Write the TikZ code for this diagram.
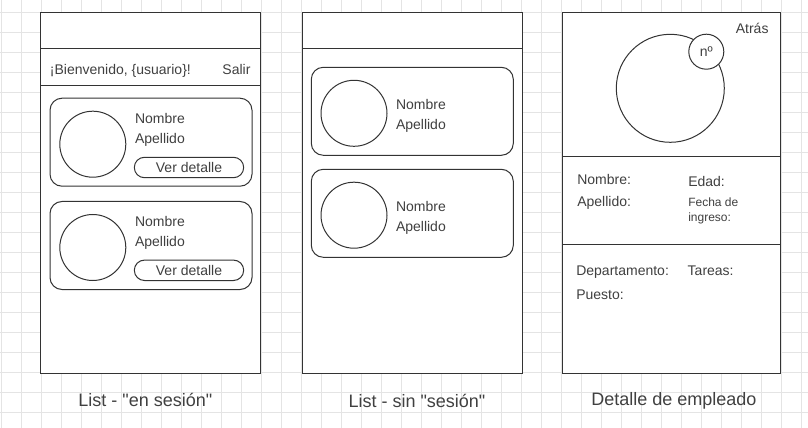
\documentclass[tikz,border=0pt]{standalone}
\usepackage{fontspec}
\setmainfont{Liberation Sans}
\usetikzlibrary{positioning,shapes}
\definecolor{ink}{HTML}{333333}
\definecolor{inktext}{HTML}{404040}
\definecolor{gridgray}{HTML}{E4E4E4}

\begin{document}
\begin{tikzpicture}[x=0.75pt,y=-0.75pt]
\tikzset{every node/.style={inner sep=0pt, outer sep=0pt, text=inktext},
gridline/.style={draw=gridgray, line width=0.75pt},
sepline/.style={draw=ink, line width=0.75pt},
screen/.style={draw=ink, line width=0.75pt, fill=white, anchor=north west,
minimum width=165pt, minimum height=271.1pt},
card/.style={draw=ink, line width=0.75pt, rounded corners=9pt,
minimum width=151.5pt, minimum height=66pt},
photo/.style={draw=ink, line width=0.75pt, circle, minimum size=49.5pt},
button/.style={draw=ink, line width=0.75pt, rounded corners=7.6pt,
minimum width=82pt, minimum height=15.3pt, font=\fontsize{10.5pt}{12pt}\selectfont},
label/.style={anchor=base west, font=\fontsize{10.5pt}{12pt}\selectfont},
small-label/.style={anchor=base west, font=\fontsize{9pt}{10pt}\selectfont},
caption/.style={anchor=base, font=\fontsize{13.5pt}{16pt}\selectfont}}
\useasboundingbox (0,0) rectangle (808,428);
\foreach \gx in {0,...,40} \draw[gridline] (1.3+20*\gx,0) -- (1.3+20*\gx,428);
\foreach \gy in {0,...,20} \draw[gridline] (0,12.7+20*\gy) -- (808,12.7+20*\gy);

\begin{scope}
\node[screen] (list-session) at (40.5,12.5) {};
\draw[sepline] (40.5,48.5) -- (260.5,48.5);
\draw[sepline] (40.5,85.5) -- (260.5,85.5);
\node[label] (welcome) at (50,75) {¡Bienvenido, \{usuario\}!};
\node[label, anchor=base east] (logout) at (250.5,75) {Salir};
\node[card] (session-card-one) at (151,142.2) {};
\node[photo] (session-photo-one) at (92.8,144.2) {};
\node[label] (session-name-one) at (135,124) {Nombre};
\node[label] (session-surname-one) at (135,144) {Apellido};
\node[button] (session-detail-one) at (189,167.5) {Ver detalle};
\node[card] (session-card-two) at (151,245.5) {};
\node[photo] (session-photo-two) at (92.8,247.5) {};
\node[label] (session-name-two) at (135,226.7) {Nombre};
\node[label] (session-surname-two) at (135,246.7) {Apellido};
\node[button] (session-detail-two) at (189,270.3) {Ver detalle};
\node[caption] (list-session-title) at (145.3,406.7) {List - \textquotedbl en sesión\textquotedbl};
\end{scope}

\begin{scope}
\node[screen] (list-guest) at (302.5,12.5) {};
\draw[sepline] (302.5,48.5) -- (522.5,48.5);
\node[card] (guest-card-one) at (412.3,111.3) {};
\node[photo] (guest-photo-one) at (354,113.3) {};
\node[label] (guest-name-one) at (396,110) {Nombre};
\node[label] (guest-surname-one) at (396,130) {Apellido};
\node[card] (guest-card-two) at (412.3,213.3) {};
\node[photo] (guest-photo-two) at (354,215.2) {};
\node[label] (guest-name-two) at (396,212) {Nombre};
\node[label] (guest-surname-two) at (396,232) {Apellido};
\node[caption] (list-guest-title) at (417,407) {List - sin \textquotedbl sesión\textquotedbl};
\end{scope}

\begin{scope}
\node[screen, minimum width=163.5pt] (employee-detail) at (562.5,12.5) {};
\draw[sepline] (562.5,157) -- (780.5,157);
\draw[sepline] (562.5,244.5) -- (780.5,244.5);
\node[label, anchor=base east] (back) at (768.5,33.7) {Atrás};
\node[photo, minimum size=81pt] (employee-photo) at (670.3,88.3) {};
\node[photo, minimum size=26.25pt, fill=white, font=\fontsize{10.5pt}{12pt}\selectfont]
(employee-number) at (706.3,51.7) {nº};
\node[label] (employee-name) at (577.3,184.3) {Nombre:};
\node[label] (employee-age) at (688.3,186) {Edad:};
\node[label] (employee-surname) at (577.3,206.7) {Apellido:};
\node[small-label] (employee-since) at (688.3,206.7) {Fecha de};
\node[small-label] (employee-since-two) at (688.3,221) {ingreso:};
\node[label] (employee-department) at (576.3,275) {Departamento:};
\node[label] (employee-tasks) at (687.7,275) {Tareas:};
\node[label] (employee-position) at (576.3,299) {Puesto:};
\node[caption] (employee-detail-title) at (674,405) {Detalle de empleado};
\end{scope}
\end{tikzpicture}
\end{document}
